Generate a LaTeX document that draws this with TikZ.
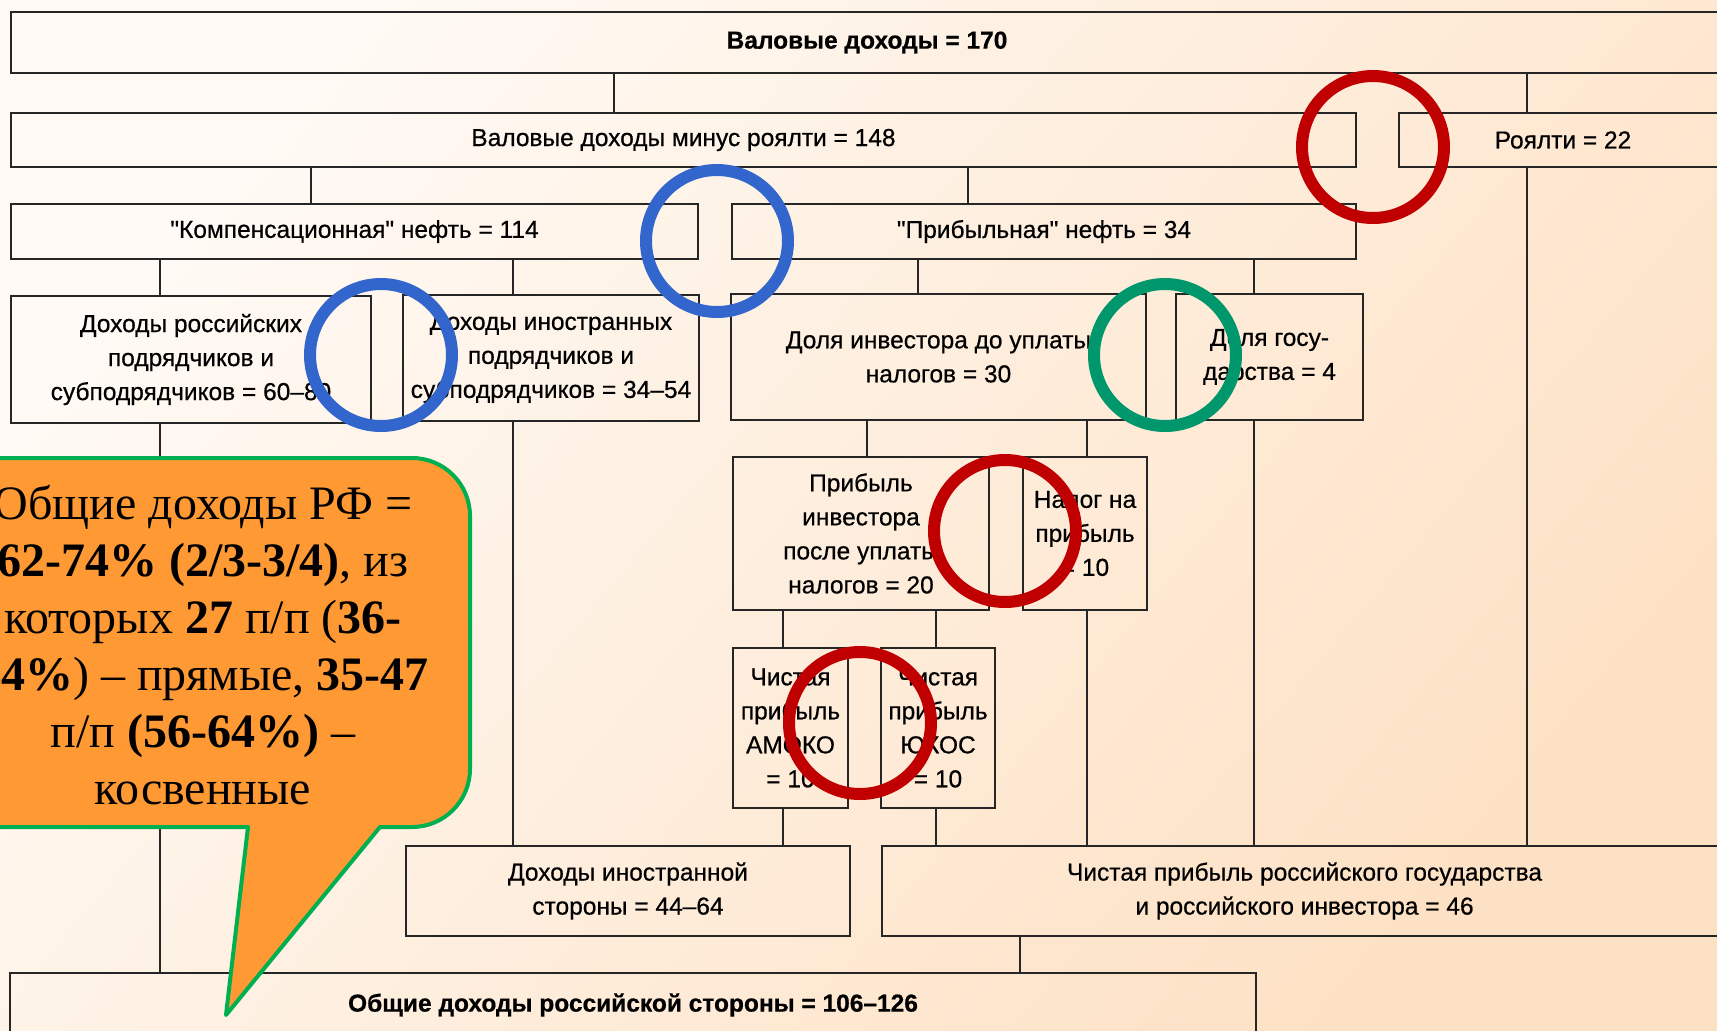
\documentclass[tikz,border=0pt]{standalone}
\usepackage{fontspec}
\usepackage{xcolor}
\usepackage{tikz}
\usetikzlibrary{calc}
\newfontfamily\boxfont[FakeBold=0.6]{Liberation Sans}
\newfontfamily\notefont{Liberation Serif}
\definecolor{chartLine}{HTML}{262626}
\definecolor{bgLight}{HTML}{FFFAF5}
\definecolor{bgPeach}{HTML}{FDE1C4}
\definecolor{noteFill}{HTML}{FF9933}
\definecolor{noteEdge}{HTML}{00B050}
\definecolor{ringRed}{HTML}{C00000}
\definecolor{ringBlue}{HTML}{3366CC}
\definecolor{ringGreen}{HTML}{00976C}

\begin{document}
\begin{tikzpicture}[
    x=1pt, y=-1pt,
    blk/.style={draw=chartLine, line width=2.4pt, inner sep=0pt, align=center, font=\boxfont\fontsize{24.5}{34}\selectfont},
    head/.style={blk, font=\boxfont\bfseries\fontsize{24.5}{34}\selectfont},
    link/.style={draw=chartLine, line width=2.4pt},
    note/.style={fill=noteFill, draw=noteEdge, line width=4pt, line join=round},
    ring/.style={line width=12pt}
]
\useasboundingbox (0,0) rectangle (1717,1031);
\clip (0,0) rectangle (1717,1031);
\shade[top color=bgLight, bottom color=bgPeach, shading angle=50] (0,0) rectangle (1717,1031);

% Revenue split, top to bottom.
\node[head, minimum width=1712, minimum height=61] (gross) at (867,42.5) {Валовые доходы = 170};
\node[blk, minimum width=1345, minimum height=54] (gmr) at (683.5,140) {Валовые доходы минус роялти = 148};
\node[blk, minimum width=328, minimum height=54] (roy) at (1563,140) {Роялти = 22};

\node[blk, minimum width=687, minimum height=55] (comp) at (354.5,231.5) {"Компенсационная" нефть = 114};
\node[blk, minimum width=624, minimum height=55] (prof) at (1044,231.5) {"Прибыльная" нефть = 34};

\node[blk, minimum width=360, minimum height=127] (rusctr) at (191,359.5) {Доходы российских\\подрядчиков и\\субподрядчиков = 60–80};
\node[blk, minimum width=296, minimum height=126] (forctr) at (551,358) {Доходы иностранных\\подрядчиков и\\субподрядчиков = 34–54};
\node[blk, minimum width=415, minimum height=126] (invshare) at (938.5,357) {Доля инвестора до уплаты\\налогов = 30};
\node[blk, minimum width=187, minimum height=126] (stshare) at (1269.5,357) {Доля госу-\\дарства = 4};

\node[blk, minimum width=256, minimum height=153] (invprofit) at (861,533.5) {Прибыль\\инвестора\\после уплаты\\налогов = 20};
\node[blk, minimum width=124, minimum height=153] (ptax) at (1085,533.5) {Налог на\\прибыль\\= 10};

\node[blk, minimum width=115, minimum height=160] (amoco) at (790.5,728) {Чистая\\прибыль\\АМОКО\\= 10};
\node[blk, minimum width=114, minimum height=160] (yukos) at (938,728) {Чистая\\прибыль\\ЮКОС\\= 10};

\node[blk, minimum width=444, minimum height=90] (forinc) at (628,891) {Доходы иностранной\\стороны = 44–64};
\node[blk, minimum width=845, minimum height=90] (netrus) at (1304.5,891) {Чистая прибыль российского государства\\и российского инвестора = 46};

\node[head, minimum width=1246, minimum height=64] (rustotal) at (633,1005) {Общие доходы российской стороны = 106–126};

% Vertical links between the boxes.
\foreach \x/\a/\b in {614/gross/gmr, 1527/gross/roy, 311/gmr/comp, 968/gmr/prof,
    1527/roy/netrus, 160/comp/rusctr, 513/comp/forctr, 918/prof/invshare,
    1254/prof/stshare, 160/rusctr/rustotal, 513/forctr/forinc, 867/invshare/invprofit,
    1087/invshare/ptax, 1254/stshare/netrus, 783/invprofit/amoco, 936/invprofit/yukos,
    1087/ptax/netrus, 783/amoco/forinc, 936/yukos/netrus, 1020/netrus/rustotal}{
    \draw[link] (\x,0 |- \a.south) -- (\x,0 |- \b.north);
}

% Callout.
\draw[note] (-90,458) -- (412,458) .. controls (444,458) and (470,484) .. (470,516)
    -- (470,769) .. controls (470,801) and (444,827) .. (412,827)
    -- (380,827) -- (226,1015) -- (248,827) -- (-90,827) -- cycle;
\node[font=\notefont\fontsize{48}{57}\selectfont, align=center] (notetext) at (203,645) {Общие доходы РФ =\\\textbf{62-74\% (2/3-3/4)}, из\\которых \textbf{27} п/п (\textbf{36-}\\\textbf{44\%}) – прямые, \textbf{35-47}\\п/п \textbf{(56-64\%)} –\\косвенные};

% Highlight rings.
\draw[ring, ringRed] (1373,147) circle[radius=71];
\draw[ring, ringBlue] (717,241) circle[radius=71];
\draw[ring, ringBlue] (381,355) circle[radius=71];
\draw[ring, ringGreen] (1165,355) circle[radius=71];
\draw[ring, ringRed] (1005,531) circle[radius=71];
\draw[ring, ringRed] (860,723) circle[radius=71];
\end{tikzpicture}
\end{document}
